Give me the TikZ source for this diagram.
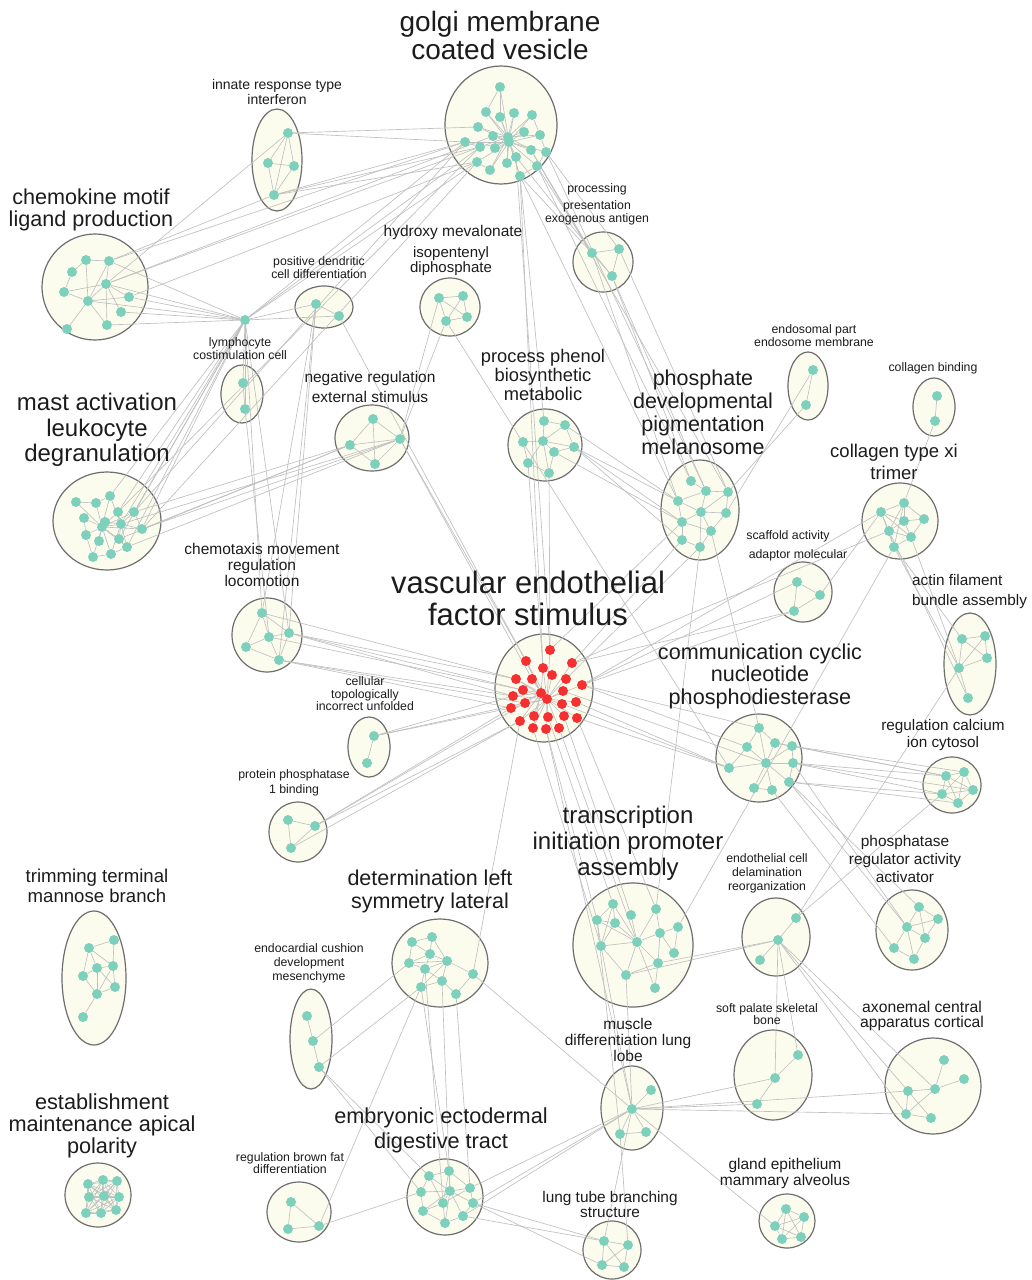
\documentclass[tikz,border=0pt]{standalone}
\usepackage{fontspec}
\setmainfont{Liberation Sans}
\usetikzlibrary{shapes.geometric}
\definecolor{dotteal}{RGB}{125,208,188}
\definecolor{dotred}{RGB}{246,48,48}
\definecolor{grpfill}{RGB}{252,252,238}
\definecolor{grpline}{RGB}{110,110,110}
\definecolor{linkgray}{RGB}{192,192,192}
\definecolor{labtext}{RGB}{28,28,28}
\pgfdeclarelayer{back}
\pgfdeclarelayer{links}
\pgfsetlayers{back,links,main}

\begin{document}
\begin{tikzpicture}[
  x=1pt, y=-1pt,
  grp/.style={draw=grpline, fill=grpfill, ellipse, line width=1.2pt, inner sep=0pt},
  dot/.style={circle, fill=dotteal, minimum size=10pt, inner sep=0pt},
  hot/.style={dot, fill=dotred},
  link/.style={draw=linkgray, line width=0.65pt},
  lab/.style n args={2}{font=\fontsize{#1}{#2}\selectfont, align=center, text=labtext, inner sep=0pt}
]
\useasboundingbox (0,0) rectangle (1031,1280);

% term groups
\begin{pgfonlayer}{back}
\fill[white] (0,0) rectangle (1031,1280);
\foreach \nm/\x/\y/\w/\h in {go/501/125/112/118, in/277/160/50/102, ch/95/287/106/106,
  pd/324/307/58/42, ly/242/394/42/58, hm/450/307/60/58, pe/603/262/60/60,
  ma/107/521/108/98, nr/372/438/74/66, pp/545/445/74/72, pm/700/510/78/100,
  en/808/386/40/68, cb/934/407/42/58, cx/900/521/76/76, ct/267/635/70/74,
  ve/544/688/98/108, sa/803/592/58/60, af/970/664/52/102, cc/759/758/86/88,
  rc/952/785/58/56, cu/369/747/42/60, pb/298/832/58/60, tr/633/945/120/124,
  ec/776/937/68/78, pr/912/930/72/80, tm/94/978/64/134, dl/440/963/96/88,
  ed/311/1039/42/100, sp/773/1075/78/90, ax/933/1086/96/96, mu/632/1108/62/84,
  ea/98/1195/66/64, em/445/1197/76/76, bf/299/1212/64/60, lt/612/1250/58/58,
  gl/787/1221/56/54}
  \node[grp, minimum width=\w pt, minimum height=\h pt] (\nm) at (\x,\y) {};
\end{pgfonlayer}

% genes
\foreach \n/\x/\y in {1/500/87, 2/486/112, 3/500/117, 4/514/113, 5/532/115, 6/478/127,
  7/493/136, 8/508/137, 9/524/132, 10/540/135, 11/465/142, 12/480/147, 13/495/148,
  14/509/142, 15/516/157, 16/531/150, 17/546/152, 18/477/162, 19/490/170, 20/507/163,
  21/537/166, 22/520/176}
  \node[dot] (go\n) at (\x,\y) {};
\foreach \n/\x/\y in {1/288/133, 2/268/163, 3/294/166, 4/274/195}
  \node[dot] (in\n) at (\x,\y) {};
\foreach \n/\x/\y in {1/86/260, 2/109/261, 3/72/272, 4/106/284, 5/64/292, 6/88/301,
  7/129/297, 8/121/312, 9/67/329, 10/107/325}
  \node[dot] (ch\n) at (\x,\y) {};
\foreach \n/\x/\y in {1/316/304, 2/339/316}
  \node[dot] (pd\n) at (\x,\y) {};
\node[dot] (hb) at (245,320) {};
\foreach \n/\x/\y in {1/243/383, 2/245/409}
  \node[dot] (ly\n) at (\x,\y) {};
\foreach \n/\x/\y in {1/439/298, 2/463/296, 3/467/317, 4/446/321}
  \node[dot] (hm\n) at (\x,\y) {};
\foreach \n/\x/\y in {1/592/253, 2/619/249, 3/612/276}
  \node[dot] (pe\n) at (\x,\y) {};
\foreach \n/\x/\y in {1/76/502, 2/96/503, 3/110/496, 4/84/518, 5/118/512, 6/134/512,
  7/105/522, 8/102/527, 9/121/524, 10/142/529, 11/86/535, 12/99/541, 13/119/539,
  14/127/547, 15/93/557, 16/111/554}
  \node[dot] (ma\n) at (\x,\y) {};
\foreach \n/\x/\y in {1/373/419, 2/350/445, 3/400/439, 4/375/464}
  \node[dot] (nr\n) at (\x,\y) {};
\foreach \n/\x/\y in {1/544/421, 2/565/425, 3/523/442, 4/543/441, 5/554/452,
  6/574/447, 7/528/463, 8/549/473}
  \node[dot] (pp\n) at (\x,\y) {};
\foreach \n/\x/\y in {1/691/481, 2/706/491, 3/728/492, 4/678/501, 5/701/512,
  6/726/513, 7/682/522, 8/711/531, 9/682/540, 10/700/547}
  \node[dot] (pm\n) at (\x,\y) {};
\foreach \n/\x/\y in {1/813/370, 2/806/405}
  \node[dot] (en\n) at (\x,\y) {};
\foreach \n/\x/\y in {1/937/396, 2/935/421}
  \node[dot] (cb\n) at (\x,\y) {};
\foreach \n/\x/\y in {1/904/503, 2/881/512, 3/904/521, 4/924/519, 5/889/531,
  6/911/537, 7/894/547}
  \node[dot] (cx\n) at (\x,\y) {};
\foreach \n/\x/\y in {1/262/613, 2/269/637, 3/289/633, 4/246/647, 5/279/660}
  \node[dot] (ct\n) at (\x,\y) {};
\foreach \n/\x/\y in {1/550/650, 2/526/661, 3/572/663, 4/543/668, 5/552/675,
  6/516/679, 7/532/679, 8/566/679, 9/582/685, 10/523/690, 11/541/693, 12/563/691,
  13/513/696, 14/547/699, 15/525/703, 16/562/704, 17/576/702, 18/511/708,
  19/534/716, 20/548/717, 21/564/716, 22/577/718, 23/520/721, 24/533/728,
  25/546/729, 26/559/728}
  \node[hot] (ve\n) at (\x,\y) {};
\foreach \n/\x/\y in {1/797/582, 2/820/595, 3/794/611}
  \node[dot] (sa\n) at (\x,\y) {};
\foreach \n/\x/\y in {1/962/639, 2/985/636, 3/987/658, 4/959/668, 5/968/698}
  \node[dot] (af\n) at (\x,\y) {};
\foreach \n/\x/\y in {1/759/728, 2/747/747, 3/775/743, 4/792/746, 5/766/763,
  6/793/763, 7/729/768, 8/789/782, 9/754/788, 10/772/790}
  \node[dot] (cc\n) at (\x,\y) {};
\foreach \n/\x/\y in {1/946/776, 2/964/772, 3/973/790, 4/942/794, 5/958/803}
  \node[dot] (rc\n) at (\x,\y) {};
\foreach \n/\x/\y in {1/374/736, 2/367/763}
  \node[dot] (cu\n) at (\x,\y) {};
\foreach \n/\x/\y in {1/288/820, 2/315/826, 3/291/848}
  \node[dot] (pb\n) at (\x,\y) {};
\foreach \n/\x/\y in {1/613/904, 2/656/909, 3/631/915, 4/597/920, 5/615/923,
  6/678/927, 7/660/933, 8/601/946, 9/637/942, 10/674/953, 11/658/963,
  12/626/975, 13/655/988}
  \node[dot] (tr\n) at (\x,\y) {};
\foreach \n/\x/\y in {1/796/918, 2/778/940, 3/760/960}
  \node[dot] (ec\n) at (\x,\y) {};
\foreach \n/\x/\y in {1/919/907, 2/938/919, 3/907/927, 4/925/938, 5/894/948, 6/914/959}
  \node[dot] (pr\n) at (\x,\y) {};
\foreach \n/\x/\y in {1/89/948, 2/114/940, 3/97/968, 4/113/966, 5/83/976,
  6/115/987, 7/97/994, 8/83/1017}
  \node[dot] (tm\n) at (\x,\y) {};
\foreach \n/\x/\y in {1/412/942, 2/432/937, 3/430/954, 4/409/963, 5/425/969,
  6/447/961, 7/473/974, 8/421/987, 9/442/981, 10/456/994}
  \node[dot] (dl\n) at (\x,\y) {};
\foreach \n/\x/\y in {1/307/1016, 2/313/1041, 3/319/1067}
  \node[dot] (ed\n) at (\x,\y) {};
\foreach \n/\x/\y in {1/798/1055, 2/775/1078, 3/757/1104}
  \node[dot] (sp\n) at (\x,\y) {};
\foreach \n/\x/\y in {1/944/1060, 2/964/1079, 3/935/1089, 4/908/1091, 5/906/1114, 6/931/1118}
  \node[dot] (ax\n) at (\x,\y) {};
\foreach \n/\x/\y in {1/651/1090, 2/632/1109, 3/620/1134, 4/646/1132}
  \node[dot] (mu\n) at (\x,\y) {};
\foreach \n/\x/\y in {1/88/1184, 2/103/1180, 3/117/1181, 4/89/1197, 5/104/1196,
  6/119/1197, 7/86/1213, 8/101/1213, 9/116/1210}
  \node[dot] (ea\n) at (\x,\y) {};
\foreach \n/\x/\y in {1/429/1176, 2/449/1171, 3/470/1188, 4/421/1192, 5/450/1191,
  6/473/1203, 7/443/1203, 8/423/1211, 9/463/1216, 10/445/1223}
  \node[dot] (em\n) at (\x,\y) {};
\foreach \n/\x/\y in {1/291/1202, 2/288/1229, 3/319/1226}
  \node[dot] (bf\n) at (\x,\y) {};
\foreach \n/\x/\y in {1/604/1241, 2/628/1245, 3/602/1265, 4/624/1267}
  \node[dot] (lt\n) at (\x,\y) {};
\foreach \n/\x/\y in {1/786/1209, 2/804/1217, 3/775/1226, 4/801/1237, 5/782/1239}
  \node[dot] (gl\n) at (\x,\y) {};

% links
\begin{pgfonlayer}{links}
\foreach \n in {1,2,3,4,5,6,7,8,9,10,11,12,13,15,16,17,18,19,20,21,22}
  \draw[link] (go14) -- (go\n);
\foreach \n in {2,3,4,5,6,7,9,10,12,13,16,19,20,22}
  \draw[link] (go8) -- (go\n);
\foreach \n in {1,2,3,4,5,6,7,8,9,10,12,13,15,16,17,18,19,20,21,22,23,24,25,26}
  \draw[link] (ve14) -- (ve\n);
\foreach \n in {2,4,6,7,10,13,15,18,19,23,24}
  \draw[link] (ve11) -- (ve\n);
\foreach \n in {1,2,3,4,5,6,7,9,10,11,12,13,14,15,16}
  \draw[link] (ma8) -- (ma\n);
\foreach \n in {3,5,6,7,10,13,14,16}
  \draw[link] (ma9) -- (ma\n);
\foreach \n in {1,2,3,4,6,7,8,9,10}
  \draw[link] (em5) -- (em\n);
\foreach \n in {1,2,3,4,6,7,8,9,10}
  \draw[link] (cc5) -- (cc\n);
\foreach \n in {1,2,3,5,6,7,8}
  \draw[link] (pp4) -- (pp\n);
\foreach \c/\m in {ea/9, rc/5, lt/4, gl/5, hm/4, nr/4, pe/3, sa/3, pb/3, bf/3} {
  \pgfmathtruncatemacro{\mm}{\m-1}
  \foreach \i in {1,...,\mm} {
    \pgfmathtruncatemacro{\nxt}{\i+1}
    \foreach \j in {\nxt,...,\m} \draw[link] (\c\i) -- (\c\j);
  }
}
\foreach \a/\b in {go1/go2, go1/go3, go11/go12, go18/go19, go21/go22, go17/go21,
  go10/go17, go5/go10, in1/in2, in1/in3, in2/in3, in2/in4, in3/in4, in1/in4,
  ch1/ch2, ch1/ch6, ch2/ch4, ch3/ch5, ch3/ch1, ch4/ch6, ch4/ch7, ch4/ch8, ch5/ch6,
  ch5/ch4, ch6/ch9, ch6/ch7, ch6/ch10, ch10/ch4, ch2/ch6, pd1/pd2, ly1/ly2,
  ma1/ma2, ma2/ma3, ma4/ma11, ma11/ma15, ma15/ma16, ma14/ma16, ma6/ma10,
  pp1/pp2, pp2/pp6, pp5/pp6, pp3/pp7, pp7/pp8, pp5/pp8,
  pm1/pm2, pm2/pm3, pm2/pm4, pm2/pm5, pm3/pm6, pm4/pm5, pm5/pm6, pm5/pm7, pm5/pm8,
  pm6/pm8, pm7/pm8, pm7/pm9, pm9/pm10, pm8/pm10, pm5/pm10, pm3/pm5, pm4/pm7,
  en1/en2, cb1/cb2, cx1/cx2, cx1/cx3, cx1/cx4, cx2/cx3, cx2/cx5, cx2/cx6, cx2/cx7,
  cx3/cx4, cx3/cx5, cx3/cx6, cx1/cx5, cx1/cx7, cx4/cx6, cx5/cx6, cx5/cx7, cx6/cx7,
  ct1/ct2, ct1/ct3, ct1/ct4, ct2/ct3, ct2/ct4, ct2/ct5, ct3/ct5, ct4/ct5,
  af1/af2, af1/af4, af2/af3, af2/af4, af3/af4, af4/af5, af1/af3,
  cc1/cc2, cc1/cc3, cc3/cc4, cc2/cc7, cc4/cc6, cc6/cc8, cc9/cc10, cu1/cu2,
  tr1/tr4, tr1/tr5, tr1/tr8, tr1/tr9, tr4/tr5, tr4/tr8, tr5/tr8, tr5/tr9, tr3/tr9,
  tr4/tr9, tr8/tr9, tr2/tr7, tr2/tr9, tr6/tr7, tr6/tr10, tr7/tr9, tr7/tr10,
  tr7/tr11, tr9/tr11, tr9/tr12, tr8/tr12, tr11/tr12, tr11/tr13, tr9/tr13,
  ec1/ec2, ec2/ec3, pr1/pr2, pr1/pr3, pr1/pr4, pr2/pr3, pr2/pr4, pr3/pr4, pr3/pr5,
  pr3/pr6, pr4/pr6, pr5/pr6, tm1/tm2, tm1/tm3, tm1/tm5, tm2/tm4, tm3/tm4, tm3/tm5,
  tm3/tm7, tm3/tm6, tm4/tm6, tm4/tm7, tm5/tm7, tm6/tm7, tm7/tm8, tm1/tm4,
  dl1/dl2, dl1/dl3, dl1/dl4, dl2/dl3, dl3/dl4, dl3/dl5, dl3/dl6, dl4/dl5, dl4/dl6,
  dl5/dl6, dl6/dl7, dl6/dl9, dl5/dl9, dl8/dl9, dl9/dl10, dl7/dl10, dl8/dl5, dl6/dl8,
  dl2/dl6, ed1/ed2, ed2/ed3, sp1/sp2, sp2/sp3, ax1/ax3, ax2/ax3, ax3/ax4, ax4/ax5,
  ax5/ax6, ax4/ax6, ax3/ax5, mu1/mu2, mu2/mu3, mu2/mu4, mu3/mu4,
  em1/em2, em1/em4, em2/em3, em3/em6, em4/em8, em8/em10, em10/em9, em9/em6,
  em7/em8, em7/em10, em1/em7, em2/em7, em3/em7}
  \draw[link] (\a) -- (\b);
% links between groups
\foreach \a/\b in {go11/in1, go6/in1, go12/in4, go11/in4, go18/in4,
  go11/ch2, go12/ch4, go18/ch7, go7/ch4, go11/hb, go18/hb, go12/hb,
  go11/ma6, go18/ma10, go12/ma5, go21/pe1, go22/pe1, go17/pe2, go16/pe1, go15/pe3,
  go21/pm1, go17/pm2, go22/pm4, go16/pm3, go22/pp1, go15/ve1, go22/ve4,
  in1/ch4, in4/ch2, hb/ch2, hb/ch4, hb/ch7, hb/ch8, hb/ch10, hb/ch6,
  hb/ma3, hb/ma5, hb/ma6, hb/ma9, hb/ma10, hb/ma13, hb/ma14, hb/ly1, hb/ly2,
  hb/pd1, hb/pd2, hb/ct1, hb/ct3, pd1/ct1, pd1/ct3, pd1/ct5, pd2/ve2, ly2/ct2,
  hm4/nr3, hm1/nr3, hm4/cc7, nr2/ma6, nr2/ma10, nr3/ma9, nr3/ma14, nr2/ma13,
  nr3/ma10, nr3/ve2, nr3/ve7,
  ct3/ve6, ct3/ve10, ct3/ve13, ct5/ve13, ct5/ve18, ct2/ve10, ct1/ve6, ct5/ve15,
  cu1/ve13, cu1/ve18, cu1/ve15, pb2/ve18, pb2/ve23, pb3/ve23, pb2/ve15,
  ve9/cc2, ve17/cc7, ve22/cc7, ve12/cc5, ve9/cc1, ve16/cc7, ve3/sa3, ve9/sa3,
  ve9/sa1, ve9/cx2, ve3/cx5, ve3/pm9, ve1/pm7, ve8/pm10, ve1/pp8, ve4/pp7,
  ve20/tr1, ve21/tr3, ve25/tr4, ve26/tr9, ve24/tr8, ve22/tr2, ve23/dl7, ve25/mu2,
  pe3/pm1, pe1/pm4, pe3/pm2, pe2/pm3, en2/pm3, en1/pm6,
  pp6/pm4, pp6/pm7, pp5/pm7, pp2/pm4, pp6/pm9, pm10/tr2, pm8/cc1,
  cx1/cb2, cx6/af4, cx7/af4, cx5/af5, cx7/af1, cx2/sa2, cx7/tr6, af4/ec1,
  cc4/rc1, cc6/rc4, cc6/rc1, cc8/rc4, cc4/rc2, cc6/rc3, cc3/rc1, cc8/rc5,
  cc8/pr1, cc8/pr3, cc6/pr3, cc10/pr5, ec2/tr12, ec2/tr11, ec2/sp1, ec2/sp2,
  ec2/ax4, ec2/ax5, ec2/ax3, ec1/rc4, tr8/mu2, tr12/mu2, tr4/mu3,
  mu2/sp3, mu2/sp2, mu2/ax4, mu2/ax5, mu2/gl3, mu2/lt1, mu3/lt2,
  mu2/em6, mu2/em9, mu2/em3, dl7/mu2, em2/dl8, em5/dl9, em7/dl5, em3/dl10,
  em6/lt1, em9/lt1, em6/lt3, bf3/em4, ed2/dl4, ed3/dl8, ed3/em1, ed3/em4, bf3/dl8}
  \draw[link] (\a) -- (\b);
\end{pgfonlayer}

% term labels
\node[lab={28}{28}] (tgo) at (500,35) {golgi membrane\\coated vesicle};
\node[lab={14}{15}] (tin) at (277,92) {innate response type\\interferon};
\node[lab={21.6}{21.5}] (tch) at (91,210) {chemokine motif\\ligand production};
\node[lab={12.3}{13}] (tpd) at (319,268) {positive dendritic\\cell differentiation};
\node[lab={12.3}{13}] (tly) at (240,349) {lymphocyte\\costimulation cell};
\node[lab={15.5}{16}] (thm) at (453,232) {hydroxy mevalonate};
\node[lab={15}{15}] (thm2) at (451,261) {isopentenyl\\diphosphate};
\node[lab={12.3}{13}] (tpe) at (597,189) {processing};
\node[lab={12.3}{11}] (tpe2) at (597,213) {presentation\\exogenous antigen};
\node[lab={24}{25.5}] (tma) at (97,430) {mast activation\\leukocyte\\degranulation};
\node[lab={15.5}{20}] (tnr) at (370,387) {negative regulation\\external stimulus};
\node[lab={18.3}{19}] (tpp) at (543,375) {process phenol\\biosynthetic\\metabolic};
\node[lab={21.5}{23}] (tpm) at (703,412) {phosphate\\developmental\\pigmentation\\melanosome};
\node[lab={12.3}{13}] (ten) at (814,336) {endosomal part\\endosome membrane};
\node[lab={12.3}{13}] (tcb) at (933,368) {collagen binding};
\node[lab={18.5}{22}] (tcx) at (894,462) {collagen type xi\\trimer};
\node[lab={15.5}{16}] (tct) at (262,565) {chemotaxis movement\\regulation\\locomotion};
\node[lab={31}{32}] (tve) at (528,598) {vascular endothelial\\factor stimulus};
\node[lab={12.3}{13}] (tsa) at (788,536) {scaffold activity};
\node[lab={12.3}{13}] (tsa2) at (798,555) {adaptor molecular};
\node[lab={15.3}{20}, align=left, anchor=west] (taf) at (912,592) {actin filament\\bundle assembly};
\node[lab={21.6}{22.5}] (tcc) at (760,676) {communication cyclic\\nucleotide\\phosphodiesterase};
\node[lab={15.3}{17}] (trc) at (943,735) {regulation calcium\\ion cytosol};
\node[lab={12.3}{12.5}] (tcu) at (365,694) {cellular\\topologically\\incorrect unfolded};
\node[lab={12.3}{15}] (tpb) at (294,783) {protein phosphatase\\1 binding};
\node[lab={24}{26}] (ttr) at (628,843) {transcription\\initiation promoter\\assembly};
\node[lab={12.3}{14}] (tec) at (767,873) {endothelial cell\\delamination\\reorganization};
\node[lab={15.4}{18}] (tpr) at (905,859) {phosphatase\\regulator activity\\activator};
\node[lab={18.6}{20}] (ttm) at (97,886) {trimming terminal\\mannose branch};
\node[lab={21.5}{23}] (tdl) at (430,891) {determination left\\symmetry lateral};
\node[lab={12.3}{14}] (ted) at (309,963) {endocardial cushion\\development\\mesenchyme};
\node[lab={12.3}{12}] (tsp) at (767,1014) {soft palate skeletal\\bone};
\node[lab={15.7}{15}] (tax) at (922,1016) {axonemal central\\apparatus cortical};
\node[lab={15.5}{16}] (tmu) at (628,1040) {muscle\\differentiation lung\\lobe};
\node[lab={21.7}{22}] (tea) at (102,1126) {establishment\\maintenance apical\\polarity};
\node[lab={21.7}{25}] (tem) at (441,1130) {embryonic ectodermal\\digestive tract};
\node[lab={12.3}{12}] (tbf) at (290,1163) {regulation brown fat\\differentiation};
\node[lab={15.4}{15}] (tlt) at (610,1204) {lung tube branching\\structure};
\node[lab={15.5}{16}] (tgl) at (785,1173) {gland epithelium\\mammary alveolus};
\end{tikzpicture}
\end{document}
